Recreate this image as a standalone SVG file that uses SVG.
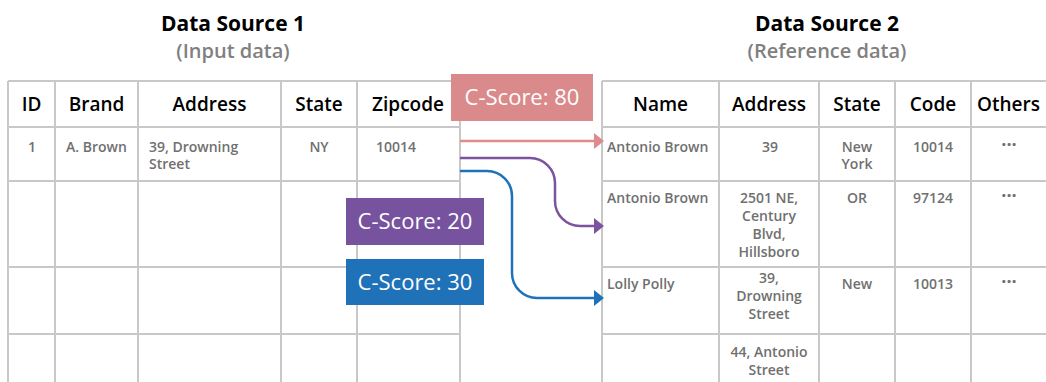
<svg xmlns="http://www.w3.org/2000/svg" width="1046" height="382" viewBox="0 0 1046 382">
<style>
.grid{stroke:#c8c8c8;stroke-width:2;fill:none}
.title{font-family:"Open Sans","Noto Sans",sans-serif;font-weight:700;font-size:21px;fill:#000;text-anchor:middle}
.sub{font-family:"Open Sans","Noto Sans",sans-serif;font-weight:600;font-size:20px;fill:#808080;text-anchor:middle}
.hd{font-family:"Open Sans","Noto Sans",sans-serif;font-weight:600;font-size:19px;fill:#000;text-anchor:middle}
.cell{font-family:"Open Sans","Noto Sans",sans-serif;font-weight:600;font-size:14px;fill:#707070}
.c{text-anchor:middle}
.dots{font-family:"Open Sans","Noto Sans",sans-serif;font-weight:700;font-size:18px;fill:#707070;text-anchor:middle;letter-spacing:0px}
.score{font-family:"Open Sans","Noto Sans",sans-serif;font-weight:400;font-size:22px;fill:#fff;text-anchor:middle}
.conn{fill:none;stroke-width:2.5}
</style>
<defs>
<marker id="ahPink" markerUnits="userSpaceOnUse" viewBox="0 0 10 16" refX="0" refY="8" markerWidth="10" markerHeight="16" orient="auto"><path d="M0,0 L10,8 L0,16 z" fill="#df8b8b"/></marker>
<marker id="ahPurple" markerUnits="userSpaceOnUse" viewBox="0 0 10 16" refX="0" refY="8" markerWidth="10" markerHeight="16" orient="auto"><path d="M0,0 L10,8 L0,16 z" fill="#7b539f"/></marker>
<marker id="ahBlue" markerUnits="userSpaceOnUse" viewBox="0 0 10 16" refX="0" refY="8" markerWidth="10" markerHeight="16" orient="auto"><path d="M0,0 L10,8 L0,16 z" fill="#1e72ba"/></marker>
</defs>
<rect width="1046" height="382" fill="#fff"/>

<g id="source1">
<text class="title" x="233" y="31">Data Source 1</text>
<text class="sub" x="233" y="58">(Input data)</text>
<path class="grid" d="M8 81 H460 M8 127 H460 M8 181 H460 M8 267 H460 M8 334 H460 M8 81 V382 M55 81 V382 M138 81 V382 M281 81 V382 M357 81 V382 M460 81 V382"/>
<text class="hd" x="31.5" y="111">ID</text>
<text class="hd" x="96.5" y="111">Brand</text>
<text class="hd" x="209.5" y="111">Address</text>
<text class="hd" x="319" y="111">State</text>
<text class="hd" x="408" y="111">Zipcode</text>
<text class="cell c" x="32" y="152">1</text>
<text class="cell c" x="96.5" y="152">A. Brown</text>
<text class="cell" x="149" y="152">39, Drowning</text>
<text class="cell" x="149" y="169">Street</text>
<text class="cell c" x="319" y="152">NY</text>
<text class="cell" x="376" y="152">10014</text>
</g>

<g id="source2">
<text class="title" x="827" y="31">Data Source 2</text>
<text class="sub" x="827" y="58">(Reference data)</text>
<path class="grid" d="M602 81 H1046 M602 127 H1046 M602 181 H1046 M602 267 H1046 M602 334 H1046 M602 81 V382 M719 81 V382 M819 81 V382 M895 81 V382 M971 81 V382"/>
<text class="hd" x="660.5" y="111">Name</text>
<text class="hd" x="769" y="111">Address</text>
<text class="hd" x="857" y="111">State</text>
<text class="hd" x="933" y="111">Code</text>
<text class="hd" x="1008.5" y="111">Others</text>
<text class="cell" x="607" y="152">Antonio Brown</text>
<text class="cell c" x="770" y="152">39</text>
<text class="cell c" x="857" y="152">New</text>
<text class="cell c" x="857" y="169">York</text>
<text class="cell c" x="933" y="152">10014</text>
<text class="dots" x="1009" y="151">···</text>
<text class="cell" x="607" y="203">Antonio Brown</text>
<text class="cell c" x="769" y="203">2501 NE,</text>
<text class="cell c" x="769" y="221">Century</text>
<text class="cell c" x="769" y="239">Blvd,</text>
<text class="cell c" x="769" y="257">Hillsboro</text>
<text class="cell c" x="857" y="203">OR</text>
<text class="cell c" x="933" y="203">97124</text>
<text class="dots" x="1009" y="202">···</text>
<text class="cell" x="607" y="289">Lolly Polly</text>
<text class="cell c" x="769" y="283">39,</text>
<text class="cell c" x="769" y="301">Drowning</text>
<text class="cell c" x="769" y="319">Street</text>
<text class="cell c" x="857" y="289">New</text>
<text class="cell c" x="933" y="289">10013</text>
<text class="dots" x="1009" y="288">···</text>
<text class="cell c" x="769" y="357">44, Antonio</text>
<text class="cell c" x="769" y="375">Street</text>
</g>

<g id="connectors">
<path class="conn" stroke="#df8b8b" d="M460 141 H594" marker-end="url(#ahPink)"/>
<path class="conn" stroke="#7b539f" d="M460 158 H530 A25 25 0 0 1 555 183 V201 A25 25 0 0 0 580 226 H594" marker-end="url(#ahPurple)"/>
<path class="conn" stroke="#1e72ba" d="M460 171 H487 A25 25 0 0 1 512 196 V273 A25 25 0 0 0 537 298 H594" marker-end="url(#ahBlue)"/>
</g>

<g id="score80">
<rect x="451" y="74" width="142" height="47" fill="#da8a8a"/>
<text class="score" x="522" y="105">C-Score: 80</text>
</g>
<g id="score20">
<rect x="346" y="198" width="138" height="47" fill="#77529e"/>
<text class="score" x="415" y="229">C-Score: 20</text>
</g>
<g id="score30">
<rect x="346" y="259" width="138" height="46" fill="#1f71b8"/>
<text class="score" x="415" y="290">C-Score: 30</text>
</g>
</svg>
